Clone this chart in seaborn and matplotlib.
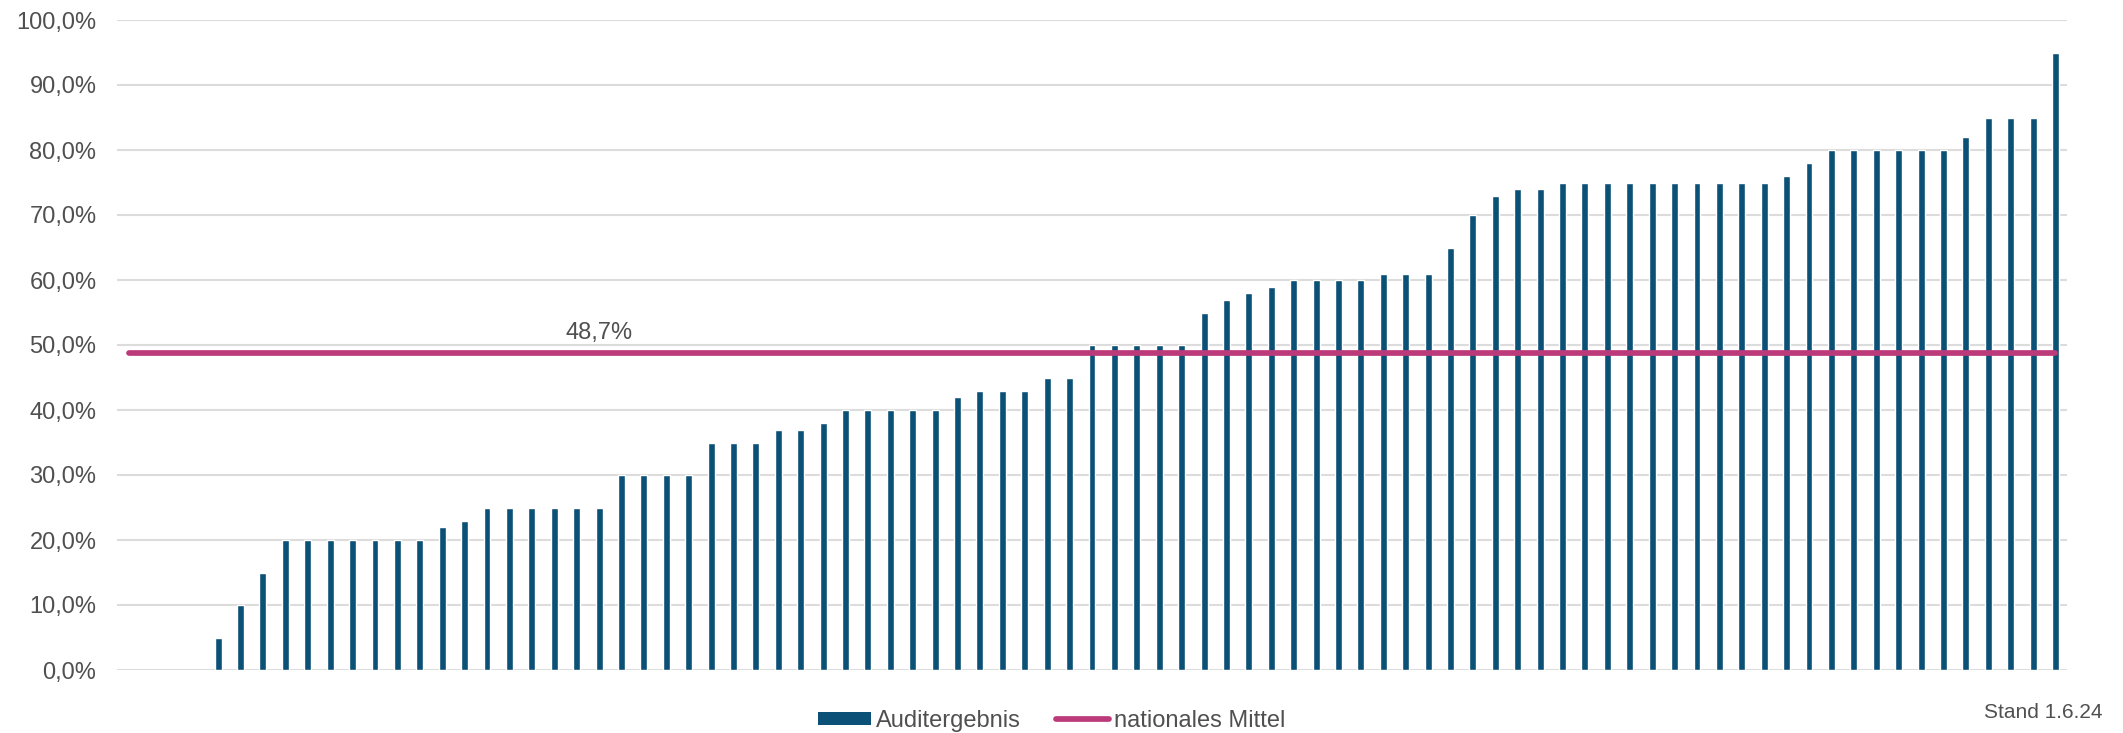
import numpy as np
import pandas as pd
import matplotlib
matplotlib.use("Agg")
import matplotlib.pyplot as plt
from matplotlib.ticker import FuncFormatter, MultipleLocator
from matplotlib.patches import Patch
from matplotlib.lines import Line2D
import seaborn as sns

# Audit results per clinic (%), sorted ascending; the first four clinics have no result
auditergebnis = [np.nan, np.nan, np.nan, np.nan,
                 5, 10, 15,
                 20, 20, 20, 20, 20, 20, 20,
                 22, 23,
                 25, 25, 25, 25, 25, 25,
                 30, 30, 30, 30,
                 35, 35, 35, 37, 37, 38,
                 40, 40, 40, 40, 40,
                 42, 43, 43, 43, 45, 45,
                 50, 50, 50, 50, 50,
                 55, 57, 58, 59,
                 60, 60, 60, 60,
                 61, 61, 61, 65, 70, 73, 74, 74,
                 75, 75, 75, 75, 75, 75, 75, 75, 75, 75,
                 76, 78,
                 80, 80, 80, 80, 80, 80,
                 82, 85, 85, 85, 95]
kliniken = [f"K{i + 1:02d}" for i in range(len(auditergebnis))]
nationales_mittel = 48.7
mittel_label = "48,7%"
stand = "Stand 1.6.24"

BAR_COLOR = "#0B5076"
LINE_COLOR = "#BC3A79"
TEXT_COLOR = "#505050"
GRID_COLOR = "#DCDCDC"

sns.set_theme(style="white")
plt.rcParams["font.family"] = ["Liberation Sans", "DejaVu Sans"]

df = pd.DataFrame({"Klinik": kliniken, "Ergebnis": auditergebnis})

fig = plt.figure(figsize=(21.23, 7.33), dpi=100)
ax = fig.add_axes([117.3 / 2123, 1 - 670 / 733, (2066.7 - 117.3) / 2123, 650 / 733])

sns.barplot(data=df, x="Klinik", y="Ergebnis", order=kliniken, color=BAR_COLOR,
            width=0.31, saturation=1, errorbar=None, ax=ax, zorder=3)

pos = np.arange(len(kliniken))
sns.lineplot(x=pos, y=np.full(len(kliniken), nationales_mittel), color=LINE_COLOR,
             linewidth=4.1, ax=ax, zorder=4, solid_capstyle="round")

ax.annotate(mittel_label, xy=(21, nationales_mittel), xytext=(0, 15),
            textcoords="offset points", ha="center", va="center",
            fontsize=17, color=TEXT_COLOR, zorder=5)

ax.set_xlim(-0.5, len(kliniken) - 0.5)
ax.set_ylim(0, 100)
ax.yaxis.set_major_locator(MultipleLocator(10))
ax.yaxis.set_major_formatter(FuncFormatter(lambda v, _: f"{v:.1f}".replace(".", ",") + "%"))
ax.set_xticks([])
ax.set_xlabel("")
ax.set_ylabel("")
ax.tick_params(axis="y", length=0, pad=15, labelsize=17, labelcolor=TEXT_COLOR)
ax.grid(axis="y", color=GRID_COLOR, linewidth=1.5, zorder=0)
ax.set_axisbelow(True)
for s in ax.spines.values():
    s.set_visible(False)

handles = [Patch(facecolor=BAR_COLOR, edgecolor="none", label="Auditergebnis"),
           Line2D([0], [0], color=LINE_COLOR, linewidth=4.1, solid_capstyle="round",
                  label="nationales Mittel")]
fig.legend(handles=handles, loc="center", bbox_to_anchor=(1051.5 / 2123, 1 - 721 / 733),
           ncol=2, frameon=False, fontsize=17, labelcolor=TEXT_COLOR,
           handlelength=2.25, handleheight=0.5, handletextpad=0.2, columnspacing=1.5,
           borderpad=0, borderaxespad=0)

fig.text(2103 / 2123, 1 - 713 / 733, stand, ha="right", va="center",
         fontsize=15, color=TEXT_COLOR)

fig.savefig("out.png", dpi=100, facecolor="white")
